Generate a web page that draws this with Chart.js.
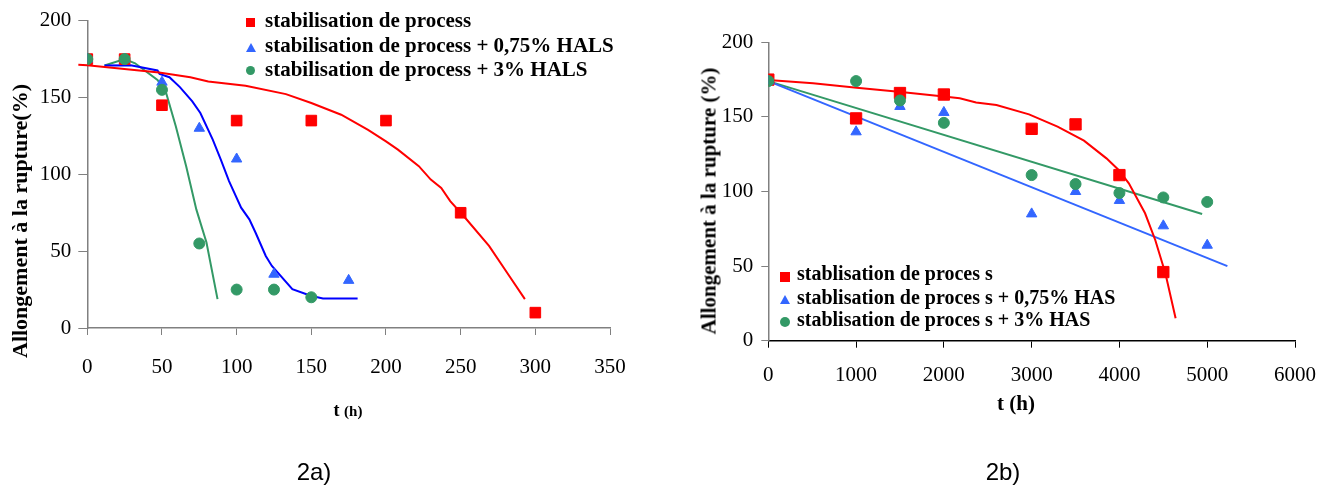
<!DOCTYPE html>
<html>
<head>
<meta charset="utf-8">
<script src="https://cdn.jsdelivr.net/npm/chart.js@4.4.0/dist/chart.umd.min.js"></script>
<style>
  body { margin: 0; width: 1331px; height: 486px; background: #fff; position: relative; overflow: hidden;
         font-family: 'Liberation Serif', 'Times New Roman', serif; color: #000; }
  canvas { position: absolute; top: 0; }
  .ytitle { position: absolute; font-weight: bold; white-space: nowrap; transform: translate(-50%, -50%) rotate(-90deg); }
  .xtitle { position: absolute; font-weight: bold; white-space: nowrap; transform: translate(-50%, -50%); }
  .caption { position: absolute; font-family: 'Liberation Sans', Arial, sans-serif; font-size: 24px; transform: translate(-50%, -50%); }
  .leg { position: absolute; font-weight: bold; white-space: nowrap; }
  .row { position: absolute; left: 0; white-space: nowrap; }
  .mk { position: absolute; }
  .sq { background: #ff0000; }
  .ci { background: #339966; border-radius: 50%; }
  .tr { width: 0; height: 0; border-left: 5px solid transparent; border-right: 5px solid transparent; border-bottom: 9px solid #3366ff; }
</style>
</head>
<body>
<canvas id="chartA" width="665" height="486" style="left:0"></canvas>
<canvas id="chartB" width="666" height="486" style="left:665px"></canvas>

<div class="ytitle" style="left:20px; top:221px; font-size:22px">Allongement à la rupture(%)</div>
<div class="xtitle" style="left:348px; top:410px; font-size:18px">t <span style="font-size:15px">(h)</span></div>
<div class="caption" style="left:314px; top:472px">2a)</div>

<div class="ytitle" style="left:709px; top:201px; font-size:21px">Allongement à la rupture (%)</div>
<div class="xtitle" style="left:1016px; top:403px; font-size:21px">t (h)</div>
<div class="caption" style="left:1003px; top:472px">2b)</div>

<div class="leg" style="left:0; top:0; font-size:21px">
  <div class="mk sq" style="left:246px; top:18px; width:9px; height:9px"></div>
  <div class="row" style="left:265px; top:8px">stabilisation de process</div>
  <div class="mk tr" style="left:246px; top:43px"></div>
  <div class="row" style="left:265px; top:33px">stabilisation de process + 0,75% HALS</div>
  <div class="mk ci" style="left:246px; top:66px; width:9px; height:9px"></div>
  <div class="row" style="left:265px; top:57px">stabilisation de process + 3% HALS</div>
</div>

<div class="leg" style="left:0; top:0; font-size:20px">
  <div class="mk sq" style="left:780px; top:272px; width:10px; height:10px"></div>
  <div class="row" style="left:797px; top:262px">stablisation de proces s</div>
  <div class="mk tr" style="left:780px; top:295px"></div>
  <div class="row" style="left:797px; top:286px">stablisation de proces s + 0,75% HAS</div>
  <div class="mk ci" style="left:780px; top:317px; width:10px; height:10px"></div>
  <div class="row" style="left:797px; top:308px">stablisation de proces s + 3% HAS</div>
</div>

<script>
// --- figure 2a : t (h) 0..350
const timeARed = [0, 25, 50, 100, 150, 200, 250, 300]
const valARed = [175, 175, 145, 135, 135, 135, 75, 10]
const timeABlue = [0, 25, 50, 75, 100, 125, 175]
const valABlue = [175, 175, 160, 130, 110, 35, 31]
const timeAGreen = [0, 25, 50, 75, 100, 125, 150]
const valAGreen = [175, 175, 155, 55, 25, 25, 20]

const fitARedT = [-6, 0, 48, 69, 81, 106, 133, 150, 170, 188, 200, 208, 222, 230, 237, 243, 252, 269, 281, 293]
const fitARedV = [171.3, 171, 166.3, 163.2, 160.4, 157.6, 152.2, 146.4, 138.8, 129, 121.5, 116.1, 105.3, 96.6, 91.2, 82.6, 72.9, 53.4, 36.1, 18.8]
const fitABlueT = [11.5, 29, 47, 48.4, 55, 62, 70.3, 75.7, 84, 89.4, 94.9, 103, 108.5, 112.7, 119.5, 123.6, 137.3, 149.6, 157.8, 181]
const fitABlueV = [170.8, 171, 167.6, 165.4, 163.2, 156.8, 147.5, 139.9, 122.6, 109.6, 95.6, 78.3, 70.7, 62, 46.9, 40.4, 25.3, 21, 19.2, 19.2]
const fitAGreenT = [11.5, 25, 32, 47, 52.5, 59.3, 66.2, 73, 79.8, 87.2]
const fitAGreenV = [170.8, 175, 172.3, 161.5, 154, 131.2, 105.3, 77.2, 55.6, 18.8]

// --- figure 2b : t (h) 0..6000
const timeBRed = [0, 1000, 1500, 2000, 3000, 3500, 4000, 4500]
const valBRed = [175, 149, 166, 165, 142, 145, 111, 46]
const timeB = [0, 1000, 1500, 2000, 3000, 3500, 4000, 4500, 5000]
const valBBlue = [174, 140, 157, 153, 85, 100, 94, 77, 64]
const valBGreen = [174, 174, 161, 146, 111, 105, 99, 96, 93]

const fitBRedT = [0, 510, 1007, 1485, 2000, 2181, 2367, 2599, 2970, 3295, 3596, 3852, 3991, 4107, 4292, 4408, 4524, 4640]
const fitBRedV = [174.7, 172.5, 169.6, 166.9, 163.6, 162.5, 159.6, 158, 151.7, 143.5, 134.1, 122.2, 114.4, 105.5, 85.4, 67.5, 45.1, 15]
const fitBBlueT = [0, 5230]
const fitBBlueV = [174, 50]
const fitBGreenT = [0, 4942]
const fitBGreenV = [174, 84.9]

const RED = '#ff0000'
const BLUE = '#3366ff'
const GREEN = '#339966'
const SERIF = "'Liberation Serif', 'Times New Roman', serif"

const pts = (xs, ys) => xs.map((x, i) => ({ x, y: ys[i] }))

function markers (xs, ys, color, style, radius, order) {
  return {
    data: pts(xs, ys),
    showLine: false,
    pointStyle: style,
    pointRadius: radius,
    backgroundColor: color,
    borderColor: color,
    borderWidth: 1,
    order
  }
}

function curve (xs, ys, color) {
  return {
    data: pts(xs, ys),
    showLine: true,
    pointRadius: 0,
    borderColor: color,
    borderWidth: 2,
    tension: 0,
    clip: false,
    order: 10
  }
}

function axis (min, max, step, o) {
  return {
    type: 'linear',
    min,
    max,
    ticks: {
      stepSize: step,
      autoSkip: false,
      maxRotation: 0,
      padding: o.pad,
      color: '#000',
      font: { family: SERIF, size: 21 },
      callback: (v) => String(v)
    },
    grid: { drawOnChartArea: false, drawTicks: true, tickLength: o.tick, color: o.color, lineWidth: 1 },
    border: { color: o.color, width: 1.5 },
    afterFit: (scale) => {
      if (scale.isHorizontal()) scale.height = o.size
      else scale.width = o.size
    }
  }
}

function draw (id, datasets, scales, padding) {
  return new Chart(document.getElementById(id).getContext('2d'), {
    type: 'scatter',
    data: { datasets },
    options: {
      responsive: false,
      animation: false,
      layout: { padding },
      plugins: { legend: { display: false }, tooltip: { enabled: false } },
      scales
    }
  })
}

draw('chartA', [
  markers(timeAGreen, valAGreen, GREEN, 'circle', 5.5, 1),
  markers(timeABlue, valABlue, BLUE, 'triangle', 6, 2),
  markers(timeARed, valARed, RED, 'rect', 7.5, 3),
  curve(fitARedT, fitARedV, RED),
  curve(fitABlueT, fitABlueV, '#0000ff'),
  curve(fitAGreenT, fitAGreenV, GREEN)
], {
  x: axis(0, 350, 50, { pad: 20, tick: 7, color: '#808080', size: 158 }),
  y: axis(0, 200, 50, { pad: 7, tick: 9, color: '#808080', size: 87.3 })
}, { top: 20.7, right: 55, bottom: 0, left: 0 })

draw('chartB', [
  markers(timeB, valBGreen, GREEN, 'circle', 5.5, 1),
  markers(timeB, valBBlue, BLUE, 'triangle', 6, 2),
  markers(timeBRed, valBRed, RED, 'rect', 8, 3),
  curve(fitBRedT, fitBRedV, RED),
  curve(fitBBlueT, fitBBlueV, BLUE),
  curve(fitBGreenT, fitBGreenV, GREEN)
], {
  x: axis(0, 6000, 1000, { pad: 15, tick: 7, color: '#000', size: 145.3 }),
  y: axis(0, 200, 50, { pad: 8, tick: 7, color: '#808080', size: 103.3 })
}, { top: 42.3, right: 35.3, bottom: 0, left: 0 })
</script>
</body>
</html>
